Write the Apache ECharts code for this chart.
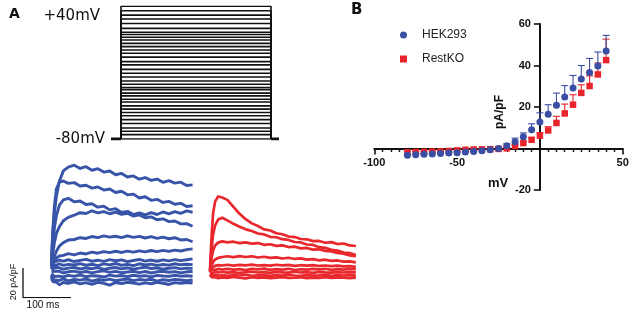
<!DOCTYPE html>
<html>
<head>
<meta charset="utf-8">
<script src="https://cdn.jsdelivr.net/npm/echarts@6/dist/echarts.min.js"></script>
<style>
html,body{margin:0;padding:0;background:#fff;}
#chart{width:633px;height:314px;}
</style>
</head>
<body>
<div id="chart"></div>
<script>
// ---------- Panel A: voltage protocol ----------
const protocolLevels = [40, 36, 32, 28.5, 24.5, 20, 16.5, 14.5, 12, 9.5, 6.5, 3.5, 0.5, -2.5, -6, -10, -13, -17, -20.5, -24, -27.5, -30.5, -33.5, -35.5, -38.5, -41, -44, -46.5, -50, -53, -56, -59, -62.5, -66, -70, -73, -76, -80];
const holdingPotential = -80;
const protocolTimes = [-20, 0, 300, 316]; // hold start, step start, step end, hold end (ms)

// ---------- Panel A: current traces (pA/pF vs ms) ----------
const traceTimes = [0,1,3,6,10,16,24,34,46,58,70,82,94,106,118,130,142,154,166,178,190,202,214,226,238,250,262,274,286];

const hekTrace1 = [8,16,28,40,51,61,68,70.5,71.8,69.6,70.8,68.4,69.5,67.2,67.9,65.4,66.3,63.9,64.6,62.4,63.5,61.6,62.5,60.3,61.4,59.8,60.4,58.2,58.6];
const hekTrace2 = [6,15,30,45,56,60.5,61.2,59.6,60.1,57.8,58.3,56.4,57.2,55.1,55.8,53.5,54.3,51.9,52.4,49.8,50.6,48.2,48.9,46.8,47.5,45.6,46.2,44.1,44.6];
const hekTrace3 = [5,11,20,30,38,45,48.5,49.6,47.2,47.8,45.4,45.9,43.6,44.3,41.8,42.6,40.1,40.8,38.6,39.8,38.4,39.9,38.7,40.4,39.1,40.6,39.5,41.1,40.2];
const hekTrace4 = [4,8,13,20,26,30.5,34.5,36.8,38.2,39.9,39.4,41.2,39.8,40.6,39.2,40.3,38.8,39.5,37.6,38.4,36.5,37.1,35.2,35.8,33.9,34.3,32.4,32.6,30.8];
const hekTrace5 = [3,4.5,7,10.5,14,17.5,19.8,21.6,21.9,23.1,22.6,23.9,23.2,24.3,23.5,24.1,23.2,24.4,23.3,24.0,22.9,23.8,22.7,23.5,22.4,23.1,21.6,21.9,20.4];
const hekTrace6 = [2,3,4.7,7,9.5,10.8,11.2,12.4,11.6,12.8,12.2,13.4,12.7,13.8,13.1,14.0,13.2,14.1,13.4,14.3,13.6,14.5,13.8,14.6,13.9,14.8,14.2,15.1,15.6];
const hekTrace7 = [5,6,7,7.8,7.2,8.1,7.4,8.3,7.1,7.9,8.6,7.3,8.0,7.2,8.4,7.6,8.2,7.0,7.8,8.5,7.4,8.1,7.3,8.2,7.5,8.4,7.7,8.3,8.9];
const hekTrace8 = [3,4,4.6,5.4,4.7,5.6,4.5,5.2,4.8,5.7,4.6,5.3,4.4,5.5,4.9,5.8,4.6,5.2,4.4,5.6,4.8,5.4,4.5,5.1,4.7,5.6,4.9,5.3,5.0];
const hekTrace9 = [1.5,2,2.4,3.1,2.2,2.9,1.9,2.7,3.2,2.1,2.8,2.3,3.0,1.8,2.6,3.1,2.2,2.9,2.0,2.7,3.3,2.4,2.8,1.9,2.6,3.0,2.2,2.7,2.5];
const hekTrace10 = [0,0.3,-0.4,0.6,-0.2,0.5,-0.6,0.2,0.7,-0.3,0.4,-0.5,0.3,0.8,-0.2,0.5,-0.4,0.1,0.6,-0.3,0.4,-0.6,0.2,0.5,-0.1,0.3,-0.5,0.2,0.4];
const hekTrace11 = [-1,-1.8,-2.3,-2.9,-2.1,-2.7,-3.2,-2.2,-2.8,-2.0,-3.1,-2.4,-2.6,-3.3,-2.0,-2.7,-2.3,-3.0,-2.1,-2.8,-2.4,-3.2,-2.2,-2.6,-2.9,-2.1,-2.7,-2.4,-2.8];
const hekTrace12 = [-2,-3.5,-4.6,-5.3,-4.8,-5.6,-4.5,-5.9,-4.9,-5.4,-4.6,-6.1,-5.0,-5.5,-4.7,-5.8,-5.1,-4.6,-5.7,-5.0,-5.4,-4.8,-6.0,-5.1,-5.6,-4.9,-5.3,-5.8,-5.2];
const hekTrace13 = [-3,-5,-6.4,-7.2,-6.8,-8.5,-7.0,-7.6,-6.6,-7.9,-7.1,-8.2,-6.9,-7.5,-8.7,-7.0,-7.7,-6.8,-7.4,-8.1,-7.2,-7.8,-6.9,-7.5,-8.3,-7.1,-7.6,-7.0,-7.3];

const koTrace1 = [2,10,24,40,48,51.5,50.8,49.2,44.5,39.8,36.2,33.4,31.6,29.4,28.6,26.8,26.1,24.6,24.2,22.9,22.7,21.5,21.6,20.4,20.8,19.5,19.9,18.6,18.2];
const koTrace2 = [1.5,6,16,26,32,36,37.2,35.4,33.1,31.2,29.4,28.3,26.6,26.0,24.4,24.1,22.8,22.3,20.9,20.6,19.2,18.9,17.4,17.0,15.6,15.1,13.8,13.4,12.2];
const koTrace3 = [1,4,10,15,18.5,20.5,21.3,20.6,21.1,20.1,20.6,19.8,20.2,19.0,19.4,18.3,18.6,17.5,17.8,16.6,16.9,15.8,16.0,14.9,14.6,13.5,13.1,11.9,11.3];
const koTrace4 = [0.8,2.5,5,7.5,9.2,10.2,10.8,11.3,10.7,11.4,10.8,11.3,10.5,11.0,10.2,10.6,9.8,10.3,9.5,9.9,9.1,9.4,8.6,9.0,8.2,8.5,7.7,7.9,7.2];
const koTrace5 = [0.5,1.5,3,4.2,4.9,5.4,5.1,5.6,5.0,5.5,5.2,5.7,5.1,5.4,5.0,5.6,5.2,5.5,4.9,5.3,5.0,5.4,4.8,5.1,4.7,5.0,4.5,4.7,4.2];
const koTrace6 = [0.3,1.2,2,2.6,2.2,2.8,2.4,2.9,2.3,2.7,2.1,2.8,2.5,3.0,2.2,2.7,2.4,2.9,2.1,2.6,2.3,2.8,2.5,2.9,2.2,2.7,2.4,2.8,2.6];
const koTrace7 = [0,0.3,0.6,0.2,0.8,0.4,0.9,0.3,0.7,0.1,0.6,0.9,0.4,0.7,0.2,0.8,0.5,0.3,0.9,0.4,0.6,0.2,0.8,0.5,0.3,0.7,0.4,0.6,0.5];
const koTrace8 = [-0.5,-1.0,-1.4,-1.8,-1.2,-1.7,-1.3,-1.9,-1.4,-1.6,-1.1,-1.8,-1.5,-1.3,-1.9,-1.4,-1.7,-1.2,-1.6,-1.9,-1.3,-1.7,-1.5,-1.2,-1.8,-1.4,-1.6,-1.3,-1.7];
const koTrace9 = [-1,-2,-2.7,-3.2,-2.8,-3.4,-2.9,-3.3,-2.6,-3.1,-3.5,-2.8,-3.2,-2.9,-3.4,-3.0,-2.7,-3.3,-3.1,-2.8,-3.4,-3.0,-3.2,-2.7,-3.3,-2.9,-3.1,-3.4,-3.0];

// scale bar: 100 ms, 20 pA/pF
const scaleBarTime = 100;
const scaleBarCurrent = 20;

// ---------- Panel B: I-V relationship ----------
const voltages = [-80,-75,-70,-65,-60,-55,-50,-45,-40,-35,-30,-25,-20,-15,-10,-5,0,5,10,15,20,25,30,35,40];
const hekMean = [-3.3,-3.0,-2.8,-2.6,-2.4,-2.2,-2.0,-1.7,-1.4,-1.1,-0.6,0,1.3,3.2,5.7,9.0,12.8,16.5,20.8,24.8,29.2,33.5,36.6,39.7,47.0];
const hekSem  = [0.5,0.5,0.5,0.5,0.5,0.5,0.5,0.5,0.5,0.5,0.6,0.7,1.0,1.8,1.8,2.9,4.4,4.6,5.9,5.5,6.0,6.5,6.8,6.8,7.5];
const koMean  = [-1.8,-1.7,-1.6,-1.5,-1.4,-1.2,-0.9,-0.6,-0.5,-0.4,-0.3,-0.2,0.1,1.2,2.6,4.2,6.2,8.7,12.3,16.9,21.1,26.8,30.1,35.7,42.6];
const koSem   = [0.3,0.3,0.3,0.3,0.3,0.3,0.3,0.3,0.3,0.3,0.3,0.3,0.4,0.6,0.8,1.0,1.4,1.8,3.2,4.5,4.8,3.9,4.9,5.5,10.1];
const ivXTicks = [-100, -50, 0, 50];
const ivYTicks = [-20, 0, 20, 40, 60];

const BLUE = '#3a4ea3';
const RED = '#e8242b';
const TBLUE = '#3854a8';
const TRED = '#e8282d';

const chart = echarts.init(document.getElementById('chart'), null, {renderer: 'canvas'});

const hiddenAxis = (grid, min, max) => ({gridIndex: grid, type: 'value', min: min, max: max, show: false});

const series = [];

// protocol steps
protocolLevels.forEach(v => {
  series.push({
    type: 'line', xAxisIndex: 0, yAxisIndex: 0, silent: true, animation: false,
    showSymbol: false, symbol: 'none',
    lineStyle: {color: '#111', width: 1.6},
    data: [[protocolTimes[1], holdingPotential], [protocolTimes[1], v], [protocolTimes[2], v], [protocolTimes[2], holdingPotential]]
  });
});
// holding segments
[[protocolTimes[0], protocolTimes[1]], [protocolTimes[2], protocolTimes[3]]].forEach(seg => {
  series.push({
    type: 'line', xAxisIndex: 0, yAxisIndex: 0, silent: true, animation: false, symbol: 'none',
    lineStyle: {color: '#111', width: 3.2},
    data: [[seg[0], holdingPotential], [seg[1], holdingPotential]]
  });
});

const hekTraces = [hekTrace1, hekTrace2, hekTrace3, hekTrace4, hekTrace5, hekTrace6, hekTrace7, hekTrace8, hekTrace9, hekTrace10, hekTrace11, hekTrace12, hekTrace13];
const koTraces = [koTrace1, koTrace2, koTrace3, koTrace4, koTrace5, koTrace6, koTrace7, koTrace8, koTrace9];

hekTraces.forEach(tr => {
  series.push({
    type: 'line', xAxisIndex: 1, yAxisIndex: 1, silent: true, animation: false, symbol: 'none',
    lineStyle: {color: TBLUE, width: 2.9, join: 'round'},
    data: traceTimes.map((t, i) => [t, tr[i]])
  });
});
koTraces.forEach(tr => {
  series.push({
    type: 'line', xAxisIndex: 2, yAxisIndex: 2, silent: true, animation: false, symbol: 'none',
    lineStyle: {color: TRED, width: 2.7, join: 'round'},
    data: traceTimes.map((t, i) => [t, tr[i]])
  });
});

// scale bar
series.push({
  type: 'line', xAxisIndex: 3, yAxisIndex: 3, silent: true, animation: false, symbol: 'none',
  lineStyle: {color: '#111', width: 1.3},
  data: [[0, scaleBarCurrent], [0, 0], [scaleBarTime, 0]]
});

// error bars
function errorBar(color) {
  return function (params, api) {
    const x = api.value(0), m = api.value(1), top = api.value(2);
    const p1 = api.coord([x, m]);
    const p2 = api.coord([x, top]);
    const st = {stroke: color, lineWidth: 1.1};
    return {type: 'group', children: [
      {type: 'line', shape: {x1: p1[0], y1: p1[1], x2: p2[0], y2: p2[1]}, style: st},
      {type: 'line', shape: {x1: p2[0] - 3.5, y1: p2[1], x2: p2[0] + 3.5, y2: p2[1]}, style: st}
    ]};
  };
}
series.push({
  type: 'custom', name: 'RestKO err', xAxisIndex: 4, yAxisIndex: 4, silent: true, animation: false, z: 2,
  renderItem: errorBar(RED),
  data: voltages.map((v, i) => [v, koMean[i], koMean[i] + koSem[i]])
});
series.push({
  type: 'custom', name: 'HEK293 err', xAxisIndex: 4, yAxisIndex: 4, silent: true, animation: false, z: 2,
  renderItem: errorBar(BLUE),
  data: voltages.map((v, i) => [v, hekMean[i], hekMean[i] + hekSem[i]])
});
series.push({
  type: 'scatter', name: 'RestKO', xAxisIndex: 4, yAxisIndex: 4, animation: false, z: 3,
  symbol: 'rect', symbolSize: 6.5, itemStyle: {color: RED, opacity: 1},
  data: voltages.map((v, i) => [v, koMean[i]])
});
series.push({
  type: 'scatter', name: 'HEK293', xAxisIndex: 4, yAxisIndex: 4, animation: false, z: 4,
  symbol: 'circle', symbolSize: 7, itemStyle: {color: BLUE, opacity: 1},
  data: voltages.map((v, i) => [v, hekMean[i]])
});

const labelFont = {fontFamily: 'Liberation Sans, Arial, sans-serif', fontWeight: 'bold', fontSize: 11, color: '#111'};

// IV grid geometry
const ivLeft = 374.3, ivTop = 24, ivWidth = 248.4, ivHeight = 166;
const xZeroOffset = -ivHeight * (ivYTicks[0] / (ivYTicks[0] - ivYTicks[ivYTicks.length - 1]));      // distance from bottom to y=0
const yZeroOffset = ivWidth * ((0 - ivXTicks[0]) / (ivXTicks[ivXTicks.length - 1] - ivXTicks[0]));  // distance from left to x=0

const option = {
  animation: false,
  backgroundColor: '#ffffff',
  grid: [
    {left: 111, top: 6.3, width: 168, height: 132.7},
    {left: 51.5, top: 153, width: 148, height: 134},
    {left: 210, top: 154, width: 153, height: 134},
    {left: 23, top: 268, width: 48, height: 29.7},
    {left: ivLeft, top: ivTop, width: ivWidth, height: ivHeight}
  ],
  xAxis: [
    hiddenAxis(0, protocolTimes[0], protocolTimes[3]),
    hiddenAxis(1, 0, 300),
    hiddenAxis(2, 0, 300),
    hiddenAxis(3, 0, scaleBarTime),
    {
      gridIndex: 4, type: 'value', position: 'bottom', offset: -Math.abs(xZeroOffset),
      min: ivXTicks[0], max: ivXTicks[ivXTicks.length - 1], interval: 50,
      axisLine: {onZero: false, lineStyle: {color: '#111', width: 2}},
      axisTick: {show: true, length: 6, lineStyle: {color: '#111', width: 1.6}},
      minorTick: {show: true, splitNumber: 10, length: 3.5, lineStyle: {color: '#111', width: 1.4}},
      splitLine: {show: false},
      axisLabel: Object.assign({margin: 9, formatter: v => (v === 0 ? '' : String(v))}, labelFont)
    }
  ],
  yAxis: [
    hiddenAxis(0, -80, 40),
    hiddenAxis(1, -10, 80),
    hiddenAxis(2, -10, 80),
    hiddenAxis(3, 0, scaleBarCurrent),
    {
      gridIndex: 4, type: 'value', position: 'left', offset: -yZeroOffset,
      min: ivYTicks[0], max: ivYTicks[ivYTicks.length - 1], interval: 20,
      axisLine: {show: true, onZero: false, lineStyle: {color: '#111', width: 2}},
      axisTick: {show: true, length: 6, lineStyle: {color: '#111', width: 1.6}},
      splitLine: {show: false},
      axisLabel: Object.assign({margin: 9, formatter: v => (v === 0 ? '' : String(v))}, labelFont)
    }
  ],
  legend: {
    orient: 'vertical', left: 400, top: 29, padding: 0, itemGap: 12,
    itemWidth: 7, itemHeight: 7, selectedMode: false,
    textStyle: {fontSize: 12, fontFamily: 'Liberation Sans, Arial, sans-serif', color: '#222', padding: [0, 0, 0, 10]},
    data: [{name: 'HEK293', icon: 'circle'}, {name: 'RestKO', icon: 'rect'}]
  },
  graphic: [
    {type: 'text', x: 9, y: 14.5, style: {text: 'A', fontFamily: 'DejaVu Sans', fontWeight: 'bold', fontSize: 14, fill: '#111', align: 'left', verticalAlign: 'middle'}},
    {type: 'text', x: 100, y: 16.5, style: {text: '+40mV', fontFamily: 'DejaVu Sans', fontSize: 15, fill: '#111', align: 'right', verticalAlign: 'middle'}},
    {type: 'text', x: 105, y: 139, style: {text: '-80mV', fontFamily: 'DejaVu Sans', fontSize: 15, fill: '#111', align: 'right', verticalAlign: 'middle'}},
    {type: 'text', x: 14, y: 282, rotation: Math.PI / 2, style: {text: '20 pA/pF', fontFamily: 'Liberation Sans, Arial', fontSize: 9, fill: '#111', align: 'center', verticalAlign: 'middle'}},
    {type: 'text', x: 43, y: 305, style: {text: '100 ms', fontFamily: 'Liberation Sans, Arial', fontSize: 10, fill: '#111', align: 'center', verticalAlign: 'middle'}},
    {type: 'text', x: 351, y: 10.5, style: {text: 'B', fontFamily: 'DejaVu Sans', fontWeight: 'bold', fontSize: 15, fill: '#111', align: 'left', verticalAlign: 'middle'}},
    {type: 'text', x: 500, y: 112, rotation: Math.PI / 2, style: {text: 'pA/pF', fontFamily: 'Liberation Sans, Arial', fontWeight: 'bold', fontSize: 12, fill: '#111', align: 'center', verticalAlign: 'middle'}},
    {type: 'text', x: 498, y: 183.5, style: {text: 'mV', fontFamily: 'Liberation Sans, Arial', fontWeight: 'bold', fontSize: 13, fill: '#111', align: 'center', verticalAlign: 'middle'}}
  ],
  series: series
};

chart.setOption(option);
</script>
</body>
</html>
